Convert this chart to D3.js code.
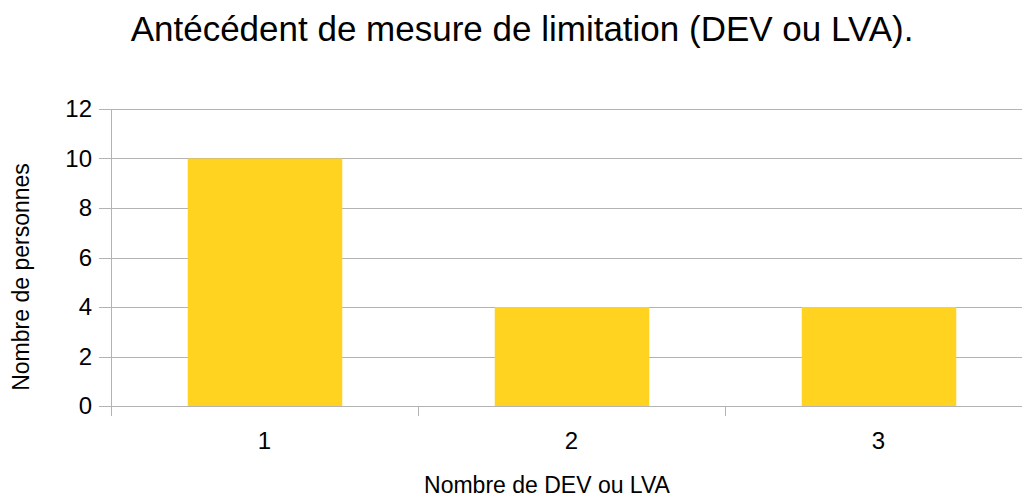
<!DOCTYPE html>
<html>
<head>
  <meta charset="utf-8">
  <title>Antécédent de mesure de limitation</title>
  <style>
  body { margin: 0; background: #fff; }
  svg { font-family: "Liberation Sans", Arial, sans-serif; }
  .bar { fill: #ffd320; }
  .grid line { stroke: #b3b3b3; }
  </style>
</head>
<body>
<script src="https://cdnjs.cloudflare.com/ajax/libs/d3/7.8.5/d3.min.js"></script>
<script>
// chart data
var categories = ["1", "2", "3"];
var persons = [10, 4, 4];
var yTicks = [0, 2, 4, 6, 8, 10, 12];

var W = 1022, H = 497;
var margin = {top: 109, right: -10, bottom: 91, left: 111},
    width = W - margin.left - margin.right,
    height = H - margin.top - margin.bottom;

var svg = d3.select("body").append("svg")
    .attr("width", W)
    .attr("height", H);

var g = svg.append("g")
    .attr("transform", "translate(" + margin.left + "," + margin.top + ")");

var x = d3.scaleBand()
    .domain(categories)
    .range([0, width])
    .paddingInner(0.5)
    .paddingOuter(0.25);

var y = d3.scaleLinear()
    .domain([0, 12])
    .range([height, 0]);

// horizontal gridlines
g.append("g")
    .attr("class", "grid")
  .selectAll("line")
  .data(yTicks)
  .enter().append("line")
    .attr("x1", -12)
    .attr("x2", width)
    .attr("y1", function(d) { return Math.round(y(d)) + 0.5; })
    .attr("y2", function(d) { return Math.round(y(d)) + 0.5; });

// bars
g.selectAll(".bar")
    .data(persons)
  .enter().append("rect")
    .attr("class", "bar")
    .attr("x", function(d, i) { return x(categories[i]); })
    .attr("width", x.bandwidth() + 1)
    .attr("y", function(d) { return y(d); })
    .attr("height", function(d) { return height - y(d); });

// y axis line
g.append("line")
    .attr("x1", 0.5).attr("x2", 0.5)
    .attr("y1", 0).attr("y2", height + 10)
    .attr("stroke", "#b3b3b3");

// bottom axis line redrawn over bars
g.append("line")
    .attr("x1", -12).attr("x2", width)
    .attr("y1", Math.round(height) + 0.5).attr("y2", Math.round(height) + 0.5)
    .attr("stroke", "#b3b3b3");

// x tick marks between categories
g.selectAll(".xtick")
    .data(categories)
  .enter().append("line")
    .attr("class", "xtick")
    .attr("x1", function(d) { return Math.round(x(d) - x.step() * 0.25) + 0.5; })
    .attr("x2", function(d) { return Math.round(x(d) - x.step() * 0.25) + 0.5; })
    .attr("y1", height)
    .attr("y2", height + 10)
    .attr("stroke", "#b3b3b3");

// y tick labels
g.selectAll(".ylabel")
    .data(yTicks)
  .enter().append("text")
    .attr("class", "ylabel")
    .attr("x", -19)
    .attr("y", function(d) { return y(d); })
    .attr("dy", "0.35em")
    .attr("text-anchor", "end")
    .style("font-size", "24px")
    .text(function(d) { return d; });

// x tick labels
g.selectAll(".xlabel")
    .data(categories)
  .enter().append("text")
    .attr("class", "xlabel")
    .attr("x", function(d) { return x(d) + x.bandwidth() / 2; })
    .attr("y", height + 43)
    .attr("text-anchor", "middle")
    .style("font-size", "24px")
    .text(function(d) { return d; });

// title
svg.append("text")
    .attr("x", 522)
    .attr("y", 41)
    .attr("text-anchor", "middle")
    .style("font-size", "35px")
    .text("Antécédent de mesure de limitation (DEV ou LVA).");

// axis titles
svg.append("text")
    .attr("x", 547)
    .attr("y", 493)
    .attr("text-anchor", "middle")
    .style("font-size", "23px")
    .text("Nombre de DEV ou LVA");

svg.append("text")
    .attr("transform", "translate(29,277) rotate(-90)")
    .attr("text-anchor", "middle")
    .style("font-size", "23px")
    .text("Nombre de personnes");
</script>
</body>
</html>
